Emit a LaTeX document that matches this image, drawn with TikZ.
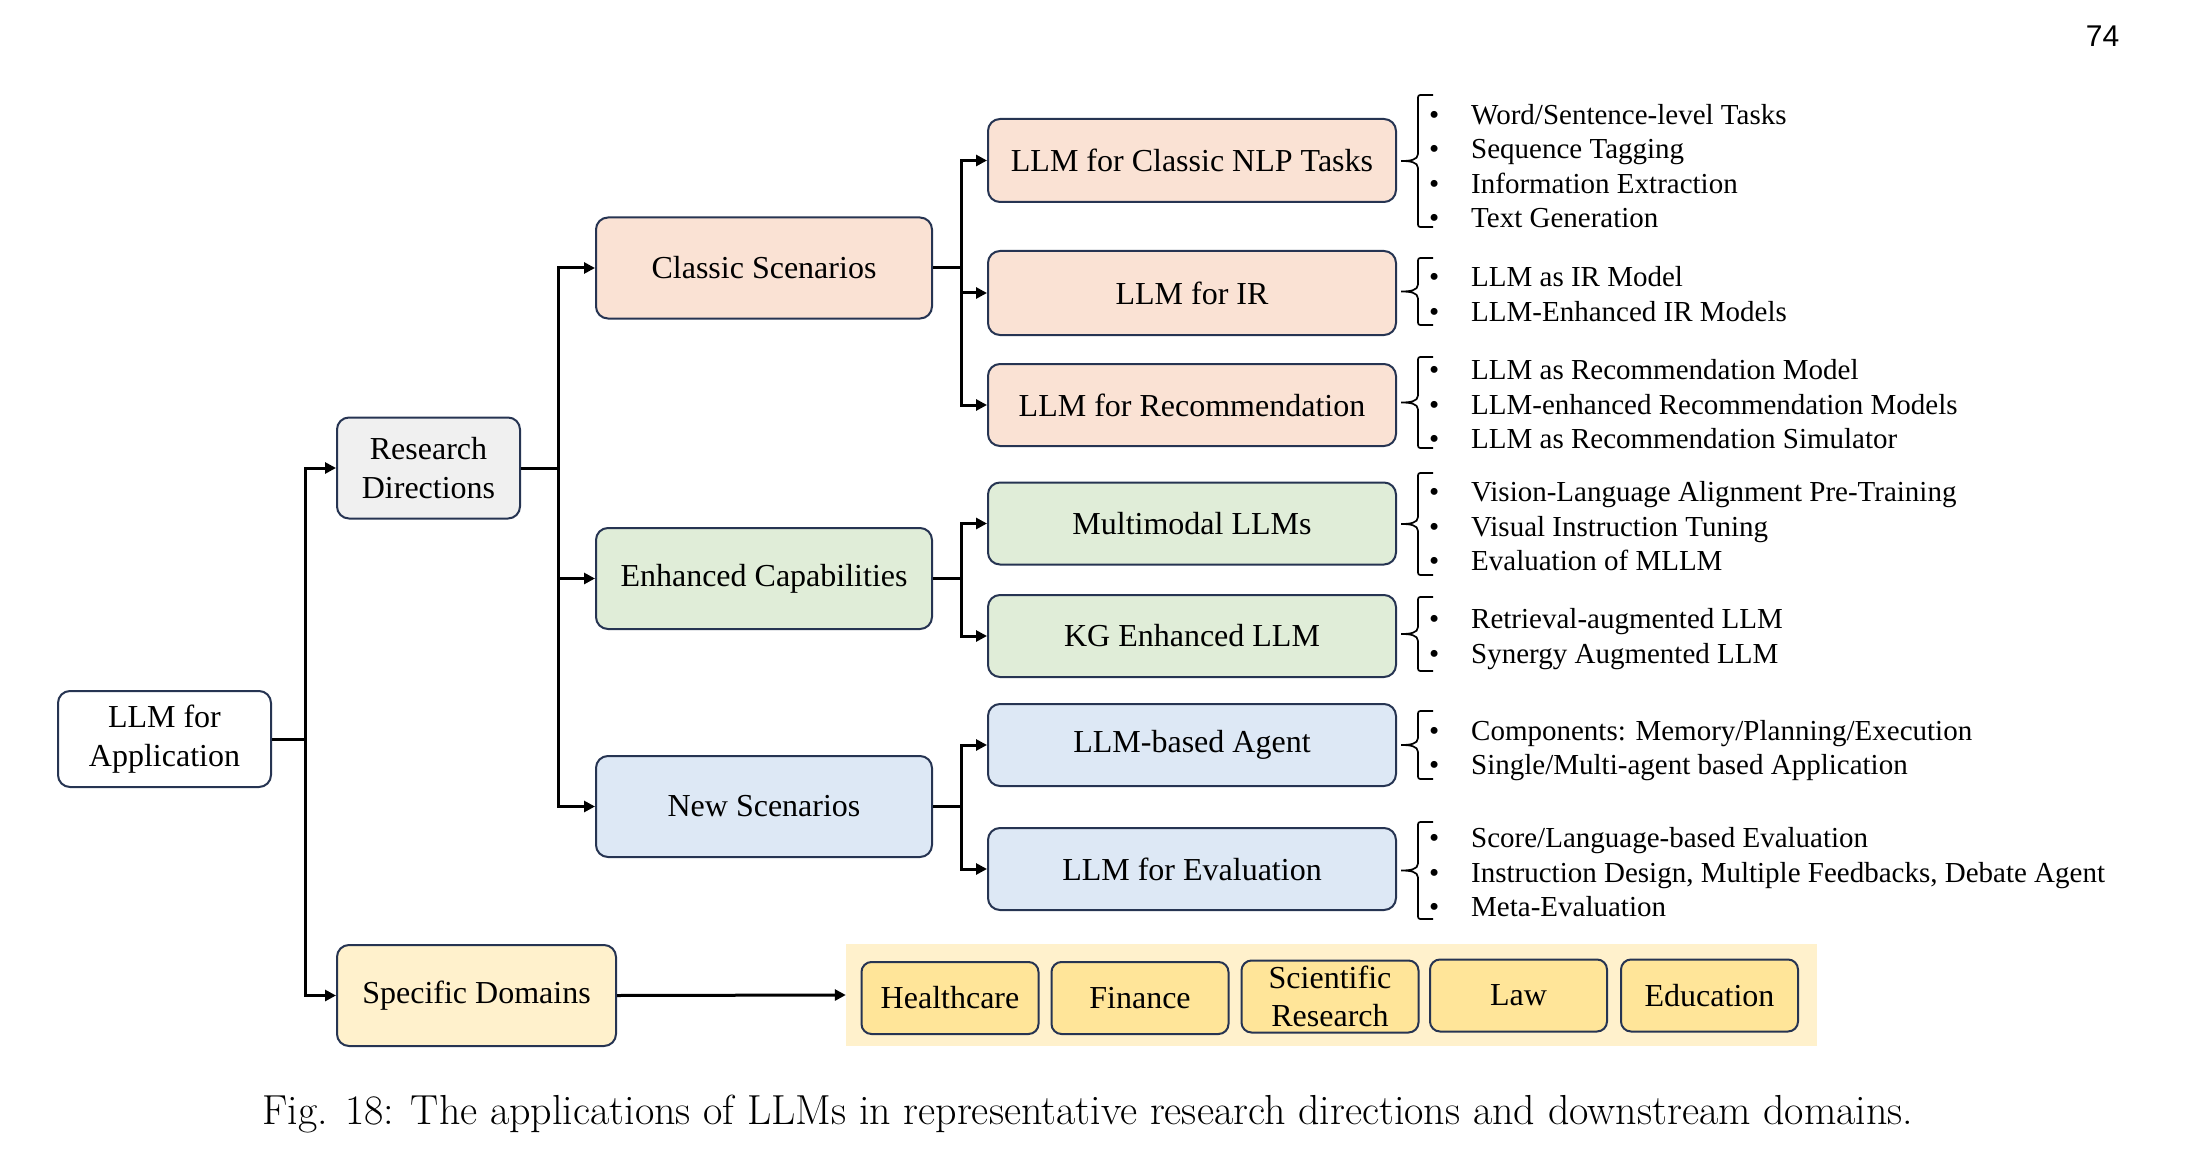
\documentclass[tikz,border=0pt]{standalone}
\usepackage{fontspec}
\newfontfamily\tnr{Liberation Serif}
\newfontfamily\arl{Liberation Sans}
\usetikzlibrary{arrows.meta,calc}
\definecolor{bord}{RGB}{38,52,82}
\definecolor{cpeach}{RGB}{250,226,212}
\definecolor{cgreen}{RGB}{224,237,216}
\definecolor{cblue}{RGB}{221,232,245}
\definecolor{cgray}{RGB}{240,240,240}
\definecolor{cyellow}{RGB}{255,241,204}
\definecolor{cgold}{RGB}{255,229,153}
\tikzset{
  box/.style={draw=bord, line width=2pt, rounded corners=12pt, inner sep=0pt, align=center,
    font=\tnr\fontsize{32}{39.5}\selectfont},
  bigbox/.style={box, minimum width=336pt, minimum height=101pt},
  subbox/.style={box, minimum width=408pt, minimum height=82pt},
  dom/.style={box, fill=cgold, rounded corners=10pt, minimum width=177pt, minimum height=72pt,
    font=\tnr\fontsize{32}{38}\selectfont},
  conn/.style={line width=3pt, black},
  arr/.style={conn, -{Triangle[length=11pt,width=11pt]}},
  itemtext/.style={anchor=base west, inner sep=0pt, font=\tnr\fontsize{29}{34.5}\selectfont},
  brcline/.style={line width=1.7pt, black}
}
\newcommand{\mybrc}[3]{%
  \draw[brcline] (1433,#1) -- (1423,#1) .. controls (1418,#1) .. (1418,#1+5) -- (1418,#2-7)
    .. controls (1418,#2-1) and (1410,#2) .. (1401,#2)
    .. controls (1410,#2) and (1418,#2+1) .. (1418,#2+7) -- (1418,#3-5)
    .. controls (1418,#3) .. (1423,#3) -- (1433,#3);}
\newcommand{\myitem}[3]{\node[itemtext] (#1) at (1429,#2) {\makebox[42pt][l]{•}#3};}
\begin{document}
\begin{tikzpicture}[x=1pt,y=-1pt]
\useasboundingbox (0,0) rectangle (2211,1174);

% level 0 / 1
\node[box, fill=white, minimum width=213pt, minimum height=96pt] (app) at (164.5,739) {LLM for\\Application};
\node[box, fill=cgray, minimum width=183pt, minimum height=101pt] (rd) at (428.5,468) {Research\\Directions};
\node[box, fill=cyellow, minimum width=279pt, minimum height=101pt] (sd) at (476.5,995.5) {Specific Domains};

% level 2
\node[bigbox, fill=cpeach] (cs) at (764,268) {Classic Scenarios};
\node[bigbox, fill=cgreen] (ec) at (764,578.5) {Enhanced Capabilities};
\node[bigbox, fill=cblue] (ns) at (764,806.5) {New Scenarios};

% level 3
\node[subbox, fill=cpeach, minimum height=83pt] (nlp) at (1192,160.5) {LLM for Classic NLP Tasks};
\node[subbox, fill=cpeach, minimum height=84pt] (ir) at (1192,293) {LLM for IR};
\node[subbox, fill=cpeach] (rec) at (1192,405) {LLM for Recommendation};
\node[subbox, fill=cgreen] (mm) at (1192,523.5) {Multimodal LLMs};
\node[subbox, fill=cgreen] (kg) at (1192,636) {KG Enhanced LLM};
\node[subbox, fill=cblue] (ag) at (1192,745) {LLM-based Agent};
\node[subbox, fill=cblue] (ev) at (1192,869) {LLM for Evaluation};

% domains
\node[fill=cyellow, inner sep=0pt, minimum width=971pt, minimum height=102pt] (dbg) at (1331.5,995) {};
\node[dom] (d1) at (950,998) {Healthcare};
\node[dom] (d2) at (1140,998) {Finance};
\node[dom] (d3) at (1330,996.5) {Scientific\\Research};
\node[dom] (d4) at (1518.5,995.5) {Law};
\node[dom] (d5) at (1709.5,995.5) {Education};

% connectors
\draw[conn] (app.east) -- ++(33,0) coordinate (t1);
\draw[arr] (t1) |- (rd.west);
\draw[arr] (t1) |- (sd.west);

\draw[conn] (rd.east) -- ++(37.6,0) coordinate (t2);
\draw[arr] (t2) |- (cs.west);
\draw[arr] (t2) |- (ec.west);
\draw[arr] (t2) |- (ns.west);

\draw[conn] (cs.east) -- ++(28,0) coordinate (t3);
\draw[arr] (t3) |- (nlp.west);
\draw[arr] (t3) |- (ir.west);
\draw[arr] (t3) |- (rec.west);

\draw[conn] (ec.east) -- ++(28,0) coordinate (t4);
\draw[arr] (t4) |- (mm.west);
\draw[arr] (t4) |- (kg.west);

\draw[conn] (ns.east) -- ++(28,0) coordinate (t5);
\draw[arr] (t5) |- (ag.west);
\draw[arr] (t5) |- (ev.west);

\draw[arr] (sd.east) -- (dbg.west);

% braces
\mybrc{95}{161}{227}
\mybrc{258}{291.5}{325}
\mybrc{357}{402.5}{448}
\mybrc{473}{524}{575}
\mybrc{597}{634}{671}
\mybrc{711}{745}{779}
\mybrc{822}{870.5}{919}

% items
\myitem{i1}{124.5}{Word/Sentence-level Tasks}
\myitem{i2}{159}{Sequence Tagging}
\myitem{i3}{193.5}{Information Extraction}
\myitem{i4}{228}{Text Generation}
\myitem{i5}{286.5}{LLM as IR Model}
\myitem{i6}{321}{LLM-Enhanced IR Models}
\myitem{i7}{379.5}{LLM as Recommendation Model}
\myitem{i8}{414}{LLM-enhanced Recommendation Models}
\myitem{i9}{448.5}{LLM as Recommendation Simulator}
\myitem{i10}{501.5}{Vision-Language Alignment Pre-Training}
\myitem{i11}{536}{Visual Instruction Tuning}
\myitem{i12}{570}{Evaluation of MLLM}
\myitem{i13}{628.5}{Retrieval-augmented LLM}
\myitem{i14}{663}{Synergy Augmented LLM}
\myitem{i15}{740.5}{Components: Memory/Planning/Execution}
\myitem{i16}{774}{Single/Multi-agent based Application}
\myitem{i17}{847.5}{Score/Language-based Evaluation}
\myitem{i18}{882}{Instruction Design, Multiple Feedbacks, Debate Agent}
\myitem{i19}{916.5}{Meta-Evaluation}

% caption and page number
\node[inner sep=0pt, font=\fontsize{42}{46}\selectfont] (cap) at (1088,1114) {Fig. 18: The applications of LLMs in representative research directions and downstream domains.};
\node[inner sep=0pt, font=\arl\fontsize{30}{34}\selectfont] (pg) at (2102.5,36) {74};
\end{tikzpicture}
\end{document}
